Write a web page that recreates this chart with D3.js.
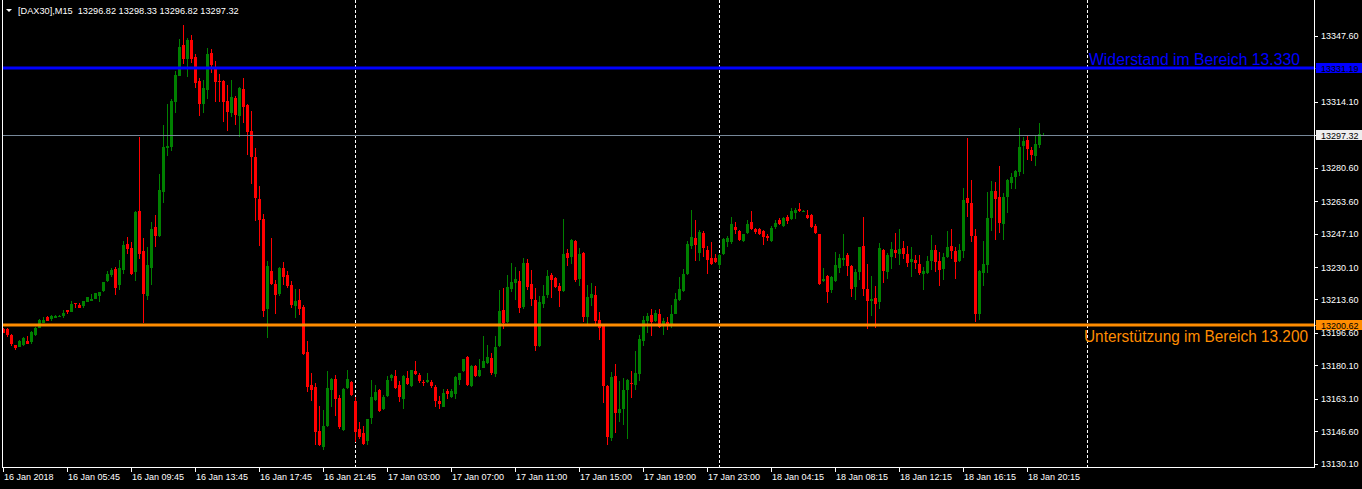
<!DOCTYPE html>
<html><head><meta charset="utf-8">
<script src="https://cdn.jsdelivr.net/npm/d3@7"></script>
<style>html,body{margin:0;padding:0;background:#000;overflow:hidden}</style>
</head><body><svg id="c" width="1362" height="489"></svg>
<script>
// ---- DATA (DAX30, M15) ----
const opens = [
13198.6,13198.6,13195.5,13190.4,13189.6,13190.4,13192.5,13192.1,13195.5,13199.2,
13201.6,13204.7,13203.6,13204.3,13205.2,13205.2,13208.2,13207.4,13211.8,13210.8,
13210.3,13212.4,13212.9,13213.8,13215.3,13217.9,13222.9,13226.0,13229.0,13220.9,
13228.5,13241.8,13239.7,13227.5,13258.5,13238.2,13215.3,13229.6,13250.4,13245.8,
13268.2,13290.5,13291.0,13313.9,13327.1,13342.8,13335.7,13345.4,13336.7,13324.6,
13312.9,13320.0,13338.8,13331.7,13324.6,13324.6,13314.4,13308.3,13315.9,13306.8,
13320.5,13312.4,13299.2,13286.0,13264.6,13254.5,13208.7,13228.0,13221.4,13216.3,
13229.6,13226.0,13220.9,13210.3,13213.3,13209.7,13186.9,13170.1,13169.1,13146.8,
13138.6,13149.3,13167.6,13173.2,13163.5,13147.3,13168.6,13171.6,13162.0,13147.8,
13145.7,13141.7,13153.4,13162.5,13167.6,13157.9,13164.5,13173.7,13174.7,13170.1,
13163.0,13173.7,13169.6,13177.2,13175.2,13171.6,13171.6,13171.6,13169.1,13162.0,
13159.0,13167.1,13164.0,13165.6,13172.7,13177.2,13184.4,13169.6,13179.8,13174.7,
13178.8,13181.3,13183.9,13175.7,13189.9,13208.2,13202.1,13218.9,13221.9,13222.9,
13209.7,13232.1,13221.4,13213.3,13189.9,13211.3,13215.8,13226.0,13224.5,13220.4,
13217.9,13237.2,13235.1,13243.3,13224.0,13237.2,13204.7,13214.3,13215.8,13203.1,
13200.1,13169.6,13143.2,13174.7,13155.9,13157.9,13167.6,13171.1,13170.1,13175.7,
13192.5,13202.6,13205.7,13202.6,13206.2,13201.1,13202.1,13201.1,13206.2,13213.3,
13217.9,13226.5,13240.7,13244.8,13237.2,13247.3,13238.7,13234.6,13234.6,13231.1,
13236.7,13242.8,13242.8,13250.4,13248.4,13243.3,13247.3,13253.1,13249.4,13249.4,
13248.4,13245.8,13243.3,13250.4,13254.0,13250.9,13255.5,13254.5,13257.5,13259.5,
13258.5,13256.5,13256.5,13250.9,13246.8,13222.9,13225.5,13218.4,13222.9,13229.6,
13233.6,13236.2,13230.6,13219.9,13227.5,13240.7,13218.9,13212.8,13214.3,13212.3,
13238.7,13227.5,13235.1,13238.7,13236.7,13239.7,13236.7,13232.6,13233.6,13231.6,
13226.5,13227.0,13233.1,13238.7,13233.1,13229.0,13235.1,13240.7,13238.2,13233.1,
13238.2,13265.1,13262.6,13245.8,13206.2,13227.0,13231.1,13255.0,13268.7,13265.6,
13251.9,13265.6,13272.7,13275.8,13278.3,13291.5,13294.6,13289.5,13286.5,13292.0,
13296.82];
const highs = [
13199.1,13199.2,13196.2,13190.6,13193.0,13194.5,13195.0,13197.6,13199.7,13203.5,
13204.5,13205.0,13205.8,13205.5,13205.5,13208.2,13208.4,13212.8,13212.0,13211.8,
13213.0,13215.0,13216.2,13217.1,13217.6,13222.7,13228.0,13229.6,13230.1,13233.6,
13243.3,13245.3,13242.8,13258.5,13296.1,13244.8,13240.2,13253.1,13256.5,13277.3,
13302.2,13312.9,13315.4,13329.6,13345.9,13353.0,13346.4,13347.9,13338.3,13326.1,
13325.1,13341.3,13340.8,13334.7,13328.1,13325.0,13322.5,13325.1,13316.9,13321.3,
13326.1,13313.0,13309.3,13290.5,13271.2,13257.0,13233.1,13244.8,13223.5,13230.0,
13232.6,13228.0,13222.9,13218.9,13218.9,13210.8,13192.5,13176.2,13171.1,13159.5,
13157.4,13177.2,13173.7,13175.2,13165.1,13168.4,13177.7,13172.0,13164.0,13151.3,
13149.3,13153.1,13172.7,13170.1,13168.0,13165.1,13174.7,13175.5,13177.7,13172.2,
13175.0,13177.2,13178.0,13182.3,13176.2,13172.7,13176.2,13172.7,13170.1,13164.5,
13168.1,13168.1,13168.1,13174.5,13176.5,13183.6,13184.9,13180.1,13180.1,13183.3,
13195.0,13190.4,13186.4,13195.0,13218.4,13219.4,13226.0,13232.1,13230.1,13228.0,
13234.6,13234.1,13228.5,13219.4,13215.3,13220.9,13228.5,13227.0,13225.0,13221.9,
13254.5,13239.2,13244.3,13243.6,13239.7,13237.5,13220.9,13221.9,13220.4,13207.2,
13200.4,13170.0,13176.7,13180.8,13172.2,13173.7,13173.0,13177.2,13187.4,13195.5,
13205.2,13206.7,13208.7,13208.2,13208.7,13204.2,13204.7,13210.8,13216.9,13225.0,
13229.0,13243.3,13259.0,13254.0,13248.9,13248.4,13240.7,13242.8,13236.7,13236.5,
13244.6,13245.8,13255.5,13253.1,13248.7,13247.1,13254.0,13258.5,13249.9,13249.9,
13248.7,13246.8,13250.9,13254.0,13255.0,13255.3,13256.5,13260.0,13260.0,13262.6,
13259.0,13259.0,13256.8,13251.9,13247.1,13229.6,13225.8,13225.3,13237.7,13236.7,
13246.8,13237.2,13231.0,13229.0,13240.5,13255.5,13231.6,13225.5,13220.4,13242.3,
13239.0,13237.2,13242.8,13247.3,13249.4,13243.3,13240.7,13240.2,13236.2,13236.2,
13230.1,13235.6,13246.3,13241.2,13237.7,13237.2,13248.4,13249.4,13240.2,13241.8,
13270.2,13295.6,13274.3,13249.4,13228.5,13243.3,13268.2,13273.8,13273.2,13281.4,
13267.7,13274.8,13277.8,13279.3,13300.7,13296.1,13296.6,13291.0,13296.6,13303.2,
13298.33];
const lows = [
13196.5,13194.7,13190.1,13187.7,13189.3,13190.0,13190.8,13191.1,13195.2,13198.9,
13201.4,13202.5,13202.8,13204.1,13205.0,13204.3,13206.3,13207.2,13209.4,13209.2,
13209.4,13212.2,13212.7,13213.6,13212.4,13217.6,13222.6,13225.1,13215.8,13218.4,
13226.5,13236.7,13226.0,13222.9,13234.1,13201.8,13213.3,13220.9,13240.2,13245.5,
13262.6,13286.5,13289.0,13308.3,13326.9,13333.2,13326.7,13333.7,13321.0,13306.8,
13308.3,13315.4,13328.6,13313.9,13313.9,13303.7,13299.2,13306.3,13302.2,13296.1,
13303.2,13287.0,13272.2,13253.6,13240.7,13204.7,13194.0,13220.9,13206.2,13215.3,
13220.9,13219.4,13209.2,13204.2,13205.7,13185.5,13166.6,13162.0,13139.6,13139.4,
13137.1,13148.8,13159.0,13154.4,13147.8,13147.0,13168.3,13164.8,13141.2,13142.7,
13139.9,13139.6,13150.3,13162.2,13156.6,13157.6,13164.3,13172.2,13168.3,13161.5,
13157.9,13170.3,13169.3,13175.4,13171.1,13169.6,13171.1,13168.6,13159.0,13157.9,
13158.8,13163.0,13163.8,13163.0,13170.1,13177.0,13169.6,13169.3,13174.2,13174.2,
13178.6,13180.8,13175.2,13174.2,13189.4,13198.6,13201.8,13217.4,13213.3,13206.7,
13208.7,13218.4,13210.3,13187.4,13189.6,13209.2,13214.3,13214.3,13219.4,13209.7,
13217.6,13230.6,13231.6,13222.4,13220.4,13202.1,13201.1,13210.3,13201.1,13193.0,
13161.0,13139.6,13141.7,13145.7,13151.3,13149.8,13142.7,13163.5,13167.6,13172.2,
13189.9,13196.5,13195.0,13202.3,13199.1,13195.5,13198.1,13199.1,13206.0,13212.8,
13217.6,13226.2,13239.2,13233.1,13233.1,13235.1,13226.5,13231.3,13232.3,13229.0,
13236.2,13240.2,13241.8,13246.8,13243.3,13242.8,13247.0,13249.1,13246.8,13246.5,
13241.2,13243.3,13243.0,13249.4,13251.6,13250.6,13251.9,13254.2,13254.5,13258.2,
13258.0,13254.7,13250.1,13247.0,13221.1,13222.4,13211.8,13216.9,13222.6,13227.0,
13230.6,13225.5,13214.8,13213.3,13223.5,13215.3,13198.6,13205.2,13199.1,13208.7,
13221.9,13224.0,13229.0,13234.6,13231.1,13234.1,13230.1,13225.0,13229.0,13226.0,
13218.4,13226.5,13228.5,13227.5,13220.4,13223.5,13234.6,13234.1,13224.0,13232.8,
13234.6,13255.5,13242.8,13202.1,13203.1,13220.4,13227.0,13248.4,13243.8,13247.3,
13243.8,13257.5,13269.7,13269.7,13276.3,13277.3,13284.4,13283.9,13281.4,13290.5,
13296.82];
const closes = [
13196.8,13195.5,13191.0,13188.7,13192.5,13193.8,13191.1,13197.1,13199.2,13203.1,
13203.1,13202.8,13205.2,13205.2,13205.2,13206.7,13207.2,13211.3,13211.4,13209.4,
13212.8,13214.8,13213.8,13216.9,13217.4,13222.4,13226.5,13228.5,13219.4,13229.6,
13241.2,13239.2,13226.5,13258.0,13236.7,13216.3,13231.1,13249.4,13245.8,13269.2,
13291.0,13291.5,13314.4,13327.6,13341.8,13335.7,13345.4,13335.7,13323.5,13312.9,
13321.0,13338.3,13332.7,13324.1,13324.1,13313.9,13308.8,13316.4,13307.3,13321.0,
13311.3,13298.6,13286.0,13265.1,13254.0,13207.7,13230.6,13221.4,13215.8,13229.6,
13225.0,13220.4,13210.8,13212.8,13208.7,13185.9,13169.1,13167.6,13146.2,13139.6,
13149.3,13168.6,13173.2,13163.0,13148.8,13168.1,13173.2,13165.1,13146.2,13143.7,
13140.1,13152.8,13164.0,13166.6,13156.9,13164.0,13172.7,13175.2,13168.6,13164.0,
13174.7,13170.6,13177.7,13175.7,13172.2,13171.1,13172.7,13169.6,13162.0,13160.5,
13166.1,13165.6,13167.1,13174.2,13176.2,13183.3,13170.1,13179.8,13174.7,13177.7,
13182.3,13184.4,13176.2,13189.4,13207.7,13201.6,13219.9,13222.4,13224.0,13209.2,
13232.1,13219.9,13213.8,13189.9,13212.3,13215.3,13225.5,13223.5,13219.9,13217.9,
13236.7,13234.6,13243.8,13223.5,13236.7,13204.7,13214.8,13216.3,13202.6,13199.1,
13169.6,13143.7,13174.2,13155.9,13157.9,13167.6,13172.7,13170.6,13176.2,13193.5,
13203.1,13205.2,13202.1,13206.7,13199.6,13202.6,13200.6,13206.2,13213.8,13218.9,
13226.5,13241.8,13245.3,13241.2,13247.8,13239.7,13233.6,13231.6,13232.6,13236.2,
13244.3,13244.8,13251.9,13248.9,13243.8,13246.8,13251.9,13249.4,13247.8,13246.8,
13245.3,13244.8,13249.9,13252.4,13251.9,13255.0,13253.5,13258.5,13259.0,13258.5,
13258.5,13255.0,13250.4,13247.3,13221.4,13224.0,13217.4,13225.0,13231.1,13234.6,
13234.6,13230.6,13218.9,13227.5,13240.2,13218.9,13212.8,13213.8,13211.3,13239.7,
13228.0,13236.2,13239.2,13237.2,13239.2,13236.7,13232.1,13234.1,13232.1,13227.0,
13228.0,13233.1,13238.7,13232.6,13228.5,13235.1,13240.2,13238.2,13232.6,13238.7,
13264.1,13262.6,13245.8,13206.2,13228.0,13231.6,13255.0,13268.7,13264.6,13252.4,
13265.6,13274.3,13275.8,13278.8,13291.0,13294.1,13290.0,13287.0,13292.6,13297.6,
13297.32];

const xTickIndex  = [0,16,32,48,64,80,96,112,128,144,160,176,192,208,224,240,256];
const xTickLabels = ["16 Jan 2018","16 Jan 05:45","16 Jan 09:45","16 Jan 13:45","16 Jan 17:45",
  "16 Jan 21:45","17 Jan 03:00","17 Jan 07:00","17 Jan 11:00","17 Jan 15:00","17 Jan 19:00",
  "17 Jan 23:00","18 Jan 04:15","18 Jan 08:15","18 Jan 12:15","18 Jan 16:15","18 Jan 20:15"];
const yTickValues = [13347.60,13314.10,13280.60,13263.60,13247.10,13230.10,13213.60,13196.60,13180.10,13163.10,13146.60,13130.10];
const daySeparatorIndex = [88,179,271];
const levelValues = [13331.19, 13200.62];           // resistance, support
const levelTexts  = ["Widerstand im Bereich 13.330","Unterstützung im Bereich 13.200"];
const bidPrice = 13297.32;
const headerSymbol = "[DAX30],M15";
const headerOHLC = [13296.82,13298.33,13296.82,13297.32];

// ---- DRAWING ----
const svg = d3.select("#c");
const W = 1362, H = 489;
const plotL = 2, plotR = 1314, plotB = 467;
const FONT = "'Liberation Sans', Arial, sans-serif";

const x = d3.scaleLinear().domain([0, 1]).range([3.5, 7.5]);
const y = d3.scaleLinear().domain([13128.5, 13365.74]).range([467, 0]);

svg.append("rect").attr("width", W).attr("height", H).attr("fill", "#000");

svg.append("defs").append("clipPath").attr("id", "plot")
  .append("rect").attr("x", plotL + 1).attr("y", 0).attr("width", plotR - plotL - 1).attr("height", plotB);

const plot = svg.append("g").attr("clip-path", "url(#plot)");

// day separators
plot.selectAll("line.sep").data(daySeparatorIndex).join("line")
  .attr("x1", d => x(d)).attr("x2", d => x(d)).attr("y1", 0).attr("y2", plotB)
  .attr("stroke", "#fff").attr("stroke-width", 1).attr("stroke-dasharray", "3,2");

const candles = d3.range(opens.length).map(i => ({i, o: opens[i], h: highs[i], l: lows[i], c: closes[i]}));
const UP = "#008000", DN = "#ff0000";
const col = d => d.c >= d.o ? UP : DN;

plot.selectAll("rect.wick").data(candles).join("rect")
  .attr("x", d => x(d.i) - 0.5).attr("width", 1)
  .attr("y", d => Math.round(y(d.h)))
  .attr("height", d => Math.max(1, Math.round(y(d.l)) - Math.round(y(d.h))))
  .attr("fill", col).attr("shape-rendering", "crispEdges");

plot.selectAll("rect.body").data(candles).join("rect")
  .attr("x", d => x(d.i) - 1.5).attr("width", 3)
  .attr("y", d => Math.round(y(Math.max(d.o, d.c))))
  .attr("height", d => Math.max(1, Math.round(y(Math.min(d.o, d.c))) - Math.round(y(Math.max(d.o, d.c)))))
  .attr("fill", col).attr("shape-rendering", "crispEdges");

// bid line
plot.append("line").attr("x1", plotL).attr("x2", plotR)
  .attr("y1", Math.round(y(bidPrice)) + 0.5).attr("y2", Math.round(y(bidPrice)) + 0.5)
  .attr("stroke", "#778899").attr("stroke-width", 1);

// level lines
const levelColors = ["#0000ff", "#ff8c00"];
levelValues.forEach((v, k) => {
  plot.append("line").attr("x1", plotL).attr("x2", plotR)
    .attr("y1", y(v)).attr("y2", y(v))
    .attr("stroke", levelColors[k]).attr("stroke-width", 3);
});
// level texts
svg.append("text").attr("x", 1089).attr("y", y(levelValues[0]) - 3)
  .attr("font-family", FONT).attr("font-size", 16).attr("fill", levelColors[0])
  .attr("textLength", 211).attr("lengthAdjust", "spacingAndGlyphs").text(levelTexts[0]);
svg.append("text").attr("x", 1084).attr("y", y(levelValues[1]) + 17)
  .attr("font-family", FONT).attr("font-size", 16).attr("fill", levelColors[1])
  .attr("textLength", 224).attr("lengthAdjust", "spacingAndGlyphs").text(levelTexts[1]);

// frame
const frame = svg.append("g").attr("stroke", "#fff").attr("stroke-width", 1).attr("shape-rendering", "crispEdges");
frame.append("line").attr("x1", plotL + 0.5).attr("x2", plotL + 0.5).attr("y1", 0).attr("y2", plotB + 0.5);
frame.append("line").attr("x1", plotL).attr("x2", plotR + 1).attr("y1", plotB + 0.5).attr("y2", plotB + 0.5);
frame.append("line").attr("x1", plotR + 0.5).attr("x2", plotR + 0.5).attr("y1", 0).attr("y2", plotB + 0.5);

// y axis ticks + labels
const yAx = svg.append("g");
yAx.selectAll("line").data(yTickValues).join("line")
  .attr("x1", plotR + 1).attr("x2", plotR + 4)
  .attr("y1", d => Math.round(y(d)) + 0.5).attr("y2", d => Math.round(y(d)) + 0.5)
  .attr("stroke", "#fff").attr("shape-rendering", "crispEdges");
yAx.selectAll("text").data(yTickValues).join("text")
  .attr("x", 1321).attr("y", d => y(d) + 3.5)
  .attr("font-family", FONT).attr("font-size", 9).attr("fill", "#fff")
  .text(d => d.toFixed(2));

// price boxes on axis
const boxes = [
  {v: levelValues[0], bg: "#0000ff", fg: "#000"},
  {v: bidPrice, bg: "#eeeeee", fg: "#000"},
  {v: levelValues[1], bg: "#ff8c00", fg: "#000"}
];
boxes.forEach(b => {
  const yy = Math.round(y(b.v));
  svg.append("line").attr("x1", plotR + 1).attr("x2", plotR + 4).attr("y1", yy + 0.5).attr("y2", yy + 0.5)
    .attr("stroke", b.bg);
  svg.append("rect").attr("x", plotR + 2).attr("y", yy - 5).attr("width", W - plotR - 2).attr("height", 10)
    .attr("fill", b.bg);
  svg.append("text").attr("x", 1321).attr("y", yy + 3.5)
    .attr("font-family", FONT).attr("font-size", 9).attr("fill", b.fg).text(b.v.toFixed(2));
});

// x axis ticks + labels
const xAx = svg.append("g");
xAx.selectAll("line").data(xTickIndex).join("line")
  .attr("x1", d => x(d)).attr("x2", d => x(d)).attr("y1", plotB + 1).attr("y2", plotB + 5)
  .attr("stroke", "#fff").attr("shape-rendering", "crispEdges");
xAx.selectAll("text").data(xTickIndex).join("text")
  .attr("x", d => x(d) + 0.5).attr("y", 480)
  .attr("font-family", FONT).attr("font-size", 9).attr("fill", "#fff")
  .text((d, k) => xTickLabels[k]);

// header
svg.append("path").attr("d", "M6,9 L12,9 L9,12 Z").attr("fill", "#fff");
svg.append("text").attr("x", 18).attr("y", 14).attr("font-family", FONT).attr("font-size", 9.2)
  .attr("fill", "#fff").style("white-space", "pre")
  .text(headerSymbol + "  " + headerOHLC.map(v => v.toFixed(2)).join(" "));
</script></body></html>
